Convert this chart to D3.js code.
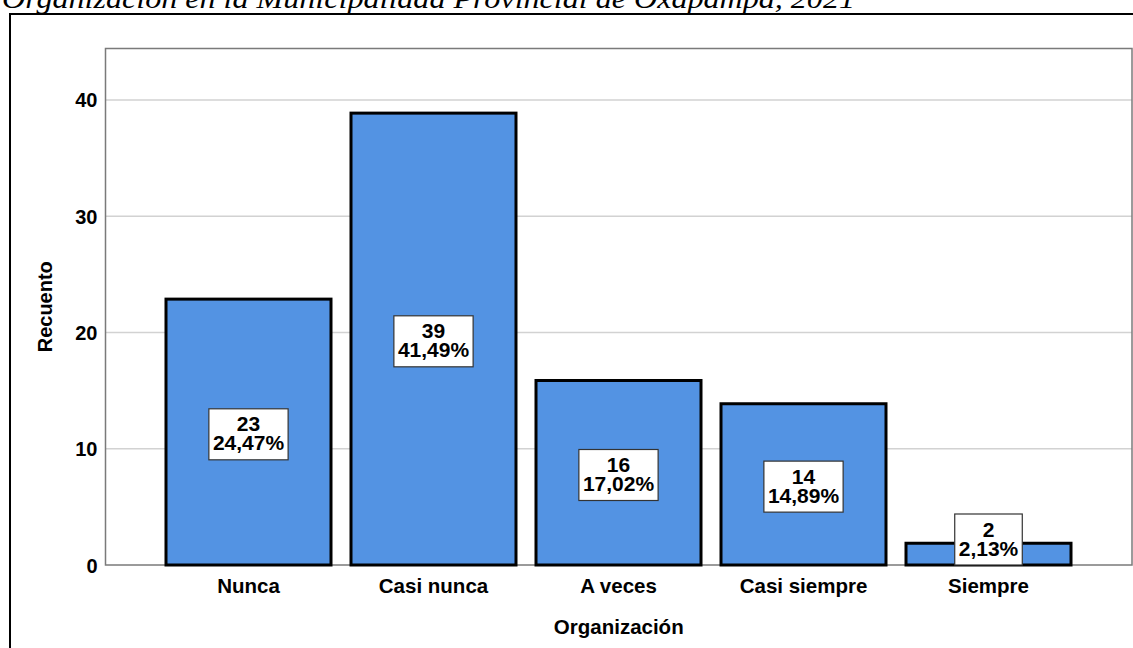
<!DOCTYPE html>
<html><head><meta charset="utf-8">
<script src="https://cdn.jsdelivr.net/npm/d3@7"></script>
<style>
html,body{margin:0;padding:0;background:#fff;}
svg{display:block;}
text{font-family:"Liberation Sans",Arial,sans-serif;}
</style></head>
<body>
<script>
const titleText = "Organización en la Municipalidad Provincial de Oxapampa, 2021";
const categories = ["Nunca","Casi nunca","A veces","Casi siempre","Siempre"];
const counts = [23, 39, 16, 14, 2];
const percents = ["24,47%","41,49%","17,02%","14,89%","2,13%"];
const yTicks = [0,10,20,30,40];
const xTitle = "Organización";
const yTitle = "Recuento";

const W = 1133, H = 648;
const plot = {l:105.5, r:1132, t:48.5, b:565};
const svg = d3.select("body").append("svg").attr("width",W).attr("height",H);

// title (cut off at the top)
svg.append("text").attr("x",2).attr("y",8)
  .attr("textLength",853).attr("lengthAdjust","spacingAndGlyphs")
  .style("font-family","'Liberation Serif','Times New Roman',serif")
  .style("font-style","italic").style("font-size","27px").attr("fill","#000")
  .text(titleText);

// outer frame
svg.append("path").attr("d",`M10,${H+5}V14H${W+5}`).attr("fill","none")
  .attr("stroke","#000").attr("stroke-width",2);

const y = d3.scaleLinear().domain([0, 44.43]).range([plot.b, plot.t]);
const x = d3.scaleBand().domain(categories).range([plot.l-0.5, plot.r])
  .paddingInner(0.0919).paddingOuter(0.3216);

// gridlines
svg.append("g").selectAll("line").data(yTicks.filter(d=>d>0)).join("line")
  .attr("x1",plot.l).attr("x2",plot.r).attr("y1",d=>y(d)).attr("y2",d=>y(d))
  .attr("stroke","#d2d2d2").attr("stroke-width",1.5);

// plot frame
svg.append("rect").attr("x",plot.l).attr("y",plot.t).attr("width",plot.r-plot.l).attr("height",plot.b-plot.t)
  .attr("fill","none").attr("stroke","#7a7a7a").attr("stroke-width",1.5);

// y axis labels
const yAxis = d3.axisLeft(y).tickValues(yTicks).tickSize(0).tickPadding(8);
const ga = svg.append("g").attr("transform",`translate(${plot.l},0)`).call(yAxis);
ga.select(".domain").remove();
ga.selectAll("text").attr("dy",null).attr("transform","translate(0,7)")
  .style("font-size","20px").style("font-weight","bold").attr("fill","#000")
  .style("font-family","'Liberation Sans',Arial,sans-serif");

// bars
const sw = 3;
svg.append("g").selectAll("rect").data(categories).join("rect")
  .attr("x",d=>x(d)+sw/2).attr("width",x.bandwidth()-sw)
  .attr("y",(d,i)=>y(counts[i])+sw/2).attr("height",(d,i)=>y(0)-y(counts[i])-sw/2)
  .attr("fill","#5393e3").attr("stroke","#000").attr("stroke-width",sw);

// x axis labels
const xAxis = d3.axisBottom(x).tickSize(0).tickPadding(0);
const gx = svg.append("g").attr("transform",`translate(0,${plot.b})`).call(xAxis);
gx.select(".domain").remove();
gx.selectAll("text").attr("dy",null).attr("y",28)
  .style("font-size","20.5px").style("font-weight","bold").attr("fill","#000")
  .style("font-family","'Liberation Sans',Arial,sans-serif");

// value labels
const lg = svg.append("g");
categories.forEach((c,i)=>{
  const cx = x(c)+x.bandwidth()/2;
  let cy = y(counts[i]/2)+3;
  const bh = 51;
  if (cy + bh/2 > y(0)) cy = y(0) - bh/2;
  const g = lg.append("g");
  const t1 = g.append("text").attr("x",cx).attr("y",cy-3).attr("text-anchor","middle")
    .style("font-size","21px").style("font-weight","bold").attr("fill","#000").text(counts[i]);
  const t2 = g.append("text").attr("x",cx).attr("y",cy+16).attr("text-anchor","middle")
    .style("font-size","21px").style("font-weight","bold").attr("fill","#000").text(percents[i]);
  const w = Math.max(t1.node().getComputedTextLength(), t2.node().getComputedTextLength()) + 8;
  g.insert("rect","text").attr("x",cx-w/2).attr("y",cy-bh/2).attr("width",w).attr("height",bh)
    .attr("fill","#fff").attr("stroke","#333").attr("stroke-width",1.2);
});

// axis titles
svg.append("text").attr("x",(plot.l+plot.r)/2).attr("y",634).attr("text-anchor","middle")
  .style("font-size","20.5px").style("font-weight","bold").attr("fill","#000").text(xTitle);
svg.append("text").attr("transform",`translate(52,${(plot.t+plot.b)/2}) rotate(-90)`).attr("text-anchor","middle")
  .style("font-size","20px").style("font-weight","bold").attr("fill","#000").text(yTitle);
</script>
</body></html>
